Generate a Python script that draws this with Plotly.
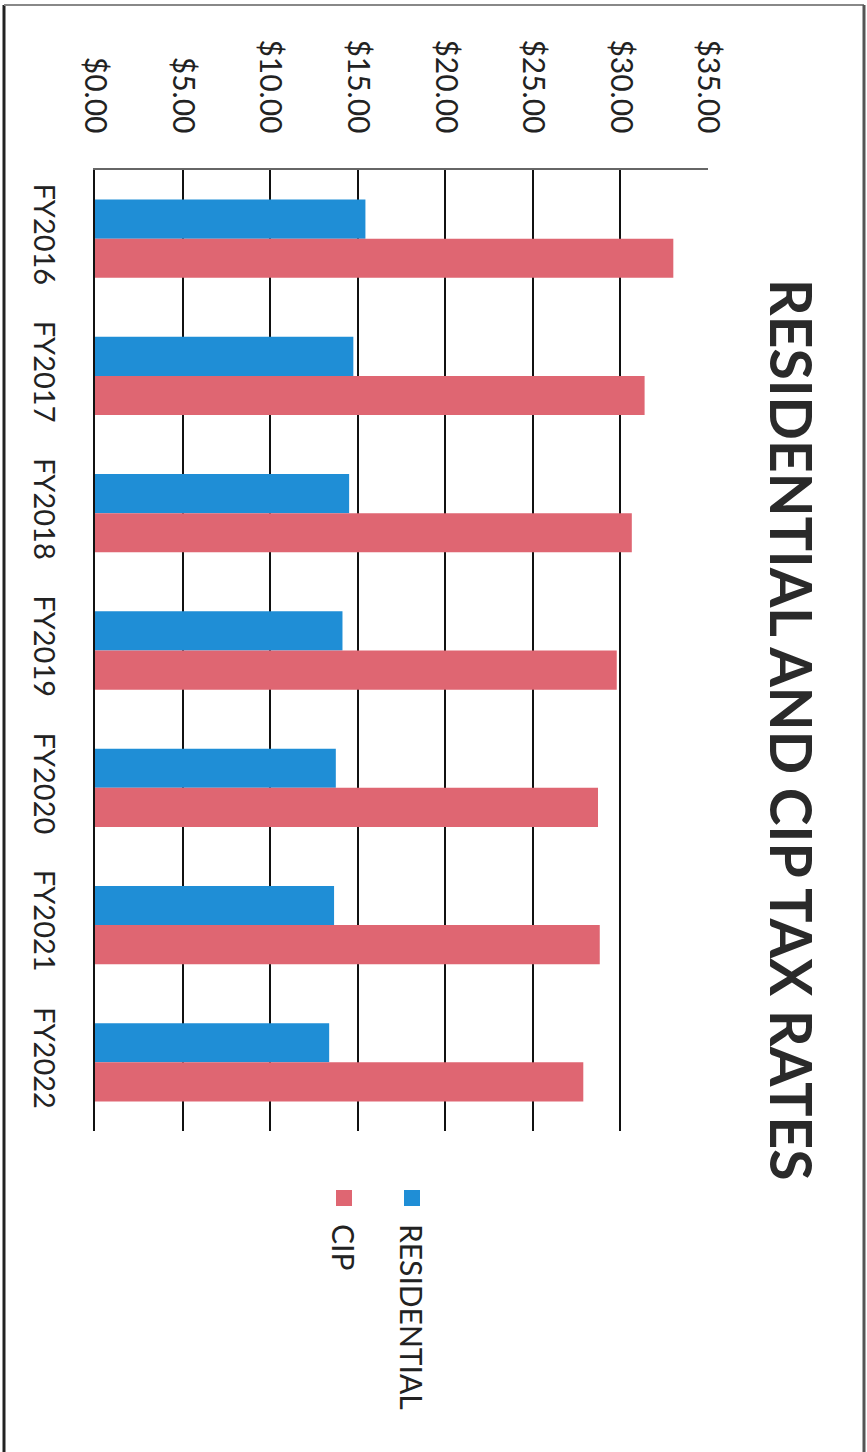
import plotly.graph_objects as go

years = ["FY2016", "FY2017", "FY2018", "FY2019", "FY2020", "FY2021", "FY2022"]
residential = [15.44, 14.75, 14.51, 14.13, 13.75, 13.65, 13.37]
cip = [33.02, 31.38, 30.65, 29.79, 28.72, 28.82, 27.88]
tick_vals = [0, 5, 10, 15, 20, 25, 30, 35]
tick_text = ["$0.00", "$5.00", "$10.00", "$15.00", "$20.00", "$25.00", "$30.00", "$35.00"]

BLUE = "#1F8ED6"
RED = "#DF6672"
FONT = "Lato"

W, H = 867, 1452
L, R, T, B = 95, 159, 170, 321
PW, PH = W - L - R, H - T - B


def px(x):
    return (x - L) / PW


def py(y):
    return (H - B - y) / PH


fig = go.Figure()
fig.add_trace(go.Bar(y=years, x=residential, orientation="h", name="RESIDENTIAL",
                     marker=dict(color=BLUE, line=dict(width=0))))
fig.add_trace(go.Bar(y=years, x=cip, orientation="h", name="CIP",
                     marker=dict(color=RED, line=dict(width=0))))

fig.update_layout(
    width=W, height=H,
    margin=dict(l=L, r=R, t=T, b=B),
    paper_bgcolor="white", plot_bgcolor="white",
    barmode="group", bargap=0.43, bargroupgap=0,
    showlegend=False,
    font=dict(family=FONT, color="#222222"),
    xaxis=dict(
        side="top", range=[0, 35], tickmode="array", tickvals=tick_vals, ticktext=tick_text,
        tickangle=90,
        tickfont=dict(size=30, family=FONT, color="#222222"),
        showgrid=True, gridcolor="#111111", gridwidth=2,
        zeroline=False, showline=True, linecolor="#666666", linewidth=2,
        ticks="", ticklabelstandoff=24, fixedrange=True,
    ),
    yaxis=dict(
        autorange="reversed", tickangle=90,
        tickfont=dict(size=29, family=FONT, color="#222222"),
        showgrid=False, zeroline=False, showline=True, linecolor="#111111", linewidth=2,
        ticks="", ticklabelstandoff=24,
    ),
)

# title (rotated like the scanned page)
fig.add_annotation(text="<b>RESIDENTIAL AND CIP TAX RATES</b>", textangle=90,
                   xref="paper", yref="paper", x=px(792), y=py(730),
                   xanchor="center", yanchor="middle", showarrow=False,
                   font=dict(size=57, family=FONT, color="#2a2a2a"))

# legend (rotated)
for name, color, cx in [("RESIDENTIAL", BLUE, 412), ("CIP", RED, 344)]:
    fig.add_shape(type="rect", xref="paper", yref="paper",
                  x0=px(cx - 8), x1=px(cx + 8), y0=py(1190), y1=py(1206),
                  fillcolor=color, line=dict(width=0))
    fig.add_annotation(text=name, textangle=90, xref="paper", yref="paper",
                       x=px(cx), y=py(1222), xanchor="center", yanchor="top",
                       showarrow=False, font=dict(size=30, family=FONT, color="#222222"))

# page frame
fig.add_shape(type="line", xref="paper", yref="paper", x0=px(4), x1=px(4), y0=py(5), y1=py(1460),
              line=dict(color="#222222", width=3))
fig.add_shape(type="line", xref="paper", yref="paper", x0=px(4), x1=px(864), y0=py(5), y1=py(5),
              line=dict(color="#888888", width=2))
fig.add_shape(type="line", xref="paper", yref="paper", x0=px(864), x1=px(864), y0=py(5), y1=py(1460),
              line=dict(color="#555555", width=3))

fig.write_html("out.html")
